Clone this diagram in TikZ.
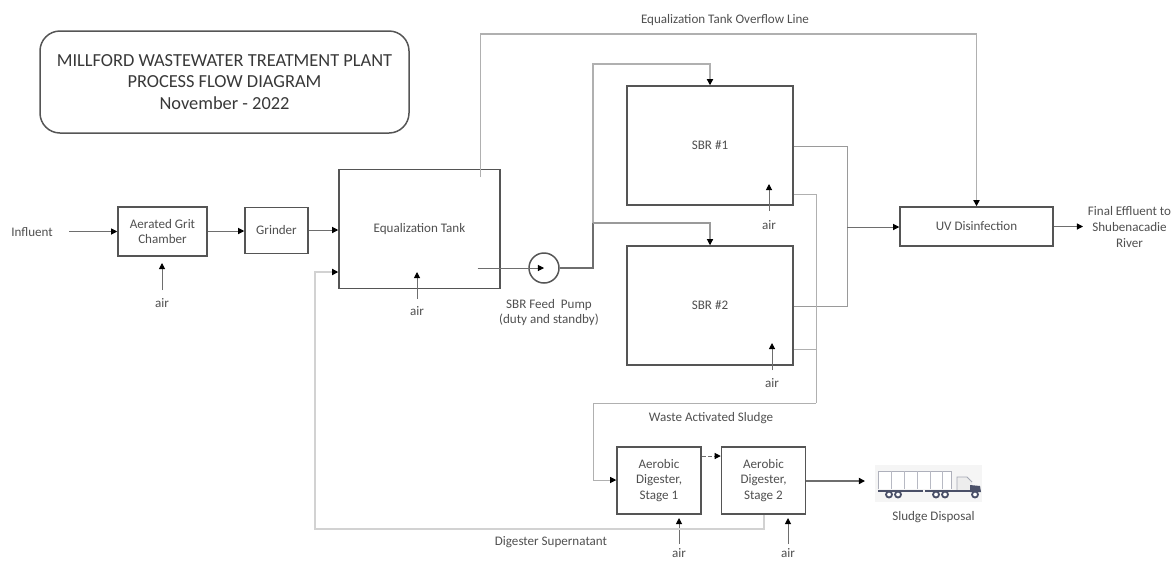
\documentclass[tikz,border=0pt]{standalone}
\usepackage{fontspec}
\setmainfont{Carlito}
\usetikzlibrary{arrows.meta,calc}
\definecolor{txt}{HTML}{505050}
\definecolor{boxc}{HTML}{555555}
\definecolor{lineA}{HTML}{9A9A9A}
\definecolor{lineB}{HTML}{B0B0B0}
\definecolor{lineC}{HTML}{D2D2D2}
\definecolor{lineD}{HTML}{6E6E6E}
\definecolor{truckc}{HTML}{4A5068}
\tikzset{
  px/.style={line width=#1*0.75pt},
  tip/.style={-{Triangle[length=4.6pt,width=4.6pt,color=black]}},
  stepbox/.style args={#1 and #2}{draw=boxc,px=1.5,fill=white,rectangle,inner sep=0pt,align=center,
     minimum width=#1*0.75pt,minimum height=#2*0.75pt,text=txt,font=\fontsize{9.8pt}{11.8pt}\selectfont},
  lab/.style={text=txt,inner sep=0pt,align=center,font=\fontsize{9.8pt}{11.8pt}\selectfont},
  flow/.style={draw=lineD,px=1,tip},
  airflow/.style={draw=lineD,px=1,tip},
  over/.style={draw=lineB,px=1.4},
  outl/.style={draw=lineA,px=1},
  waste/.style={draw=lineB,px=0.9},
  super/.style={draw=lineC,px=1.3},
}
\begin{document}
\begin{tikzpicture}[x=0.75pt,y=-0.75pt]
\useasboundingbox (0,0) rectangle (1173,561);
% overflow
\coordinate (ovA) at (480.5,177);
\coordinate (ovB) at (480.5,34);
\coordinate (ovC) at (976.5,34);
% boxes
\node[stepbox=89 and 49] (grit) at (162.5,231.5) {Aerated Grit\\Chamber};
\node[stepbox=63 and 46] (grinder) at (276.5,230.5) {Grinder};
\node[stepbox=161 and 119] (eq) at (419.5,229) {Equalization Tank};
\node[stepbox=166 and 119] (sbra) at (710,145.5) {SBR \#1};
\node[stepbox=166 and 119] (sbrb) at (710,305.5) {SBR \#2};
\node[stepbox=153 and 39] (uv) at (976.5,226.5) {UV Disinfection};
\node[stepbox=84 and 67] (ada) at (659,480.5) {Aerobic\\Digester,\\Stage 1};
\node[stepbox=84 and 67] (adb) at (763.5,480.5) {Aerobic\\Digester,\\Stage 2};
\node[draw=boxc,px=1.5,circle,inner sep=0pt,minimum size=22.5pt,fill=white] (pump) at (544,268) {};
\node[draw=boxc,px=1.5,rounded corners=15pt,rectangle,inner sep=0pt,align=center,
  minimum width=369*0.75pt,minimum height=102*0.75pt,text=txt!70!black,
  font=\fontsize{13.8pt}{15.9pt}\selectfont] (title) at (224.5,82)
  {MILLFORD WASTEWATER TREATMENT PLANT\\PROCESS FLOW DIAGRAM\\November - 2022};
% labels
\node[lab] (influent) at (32,232) {Influent};
\node[lab] (final) at (1129.5,227) {Final Effluent to\\Shubenacadie\\River};
\node[lab] (ovl) at (725,20) {Equalization Tank Overflow Line};
\node[lab] (wasl) at (711,418) {Waste Activated Sludge};
\node[lab] (supl) at (551,542) {Digester Supernatant};
\node[lab] (pumpl) at (549,312.5) {SBR Feed\ \ Pump\\(duty and standby)};
\node[lab] (disp) at (933.5,517) {Sludge Disposal};
\node[lab] (airg) at (162,303) {air};
\node[lab] (aire) at (417,311) {air};
\node[lab] (aira) at (769,225) {air};
\node[lab] (airb) at (772,383) {air};
\node[lab] (airc) at (679,553) {air};
\node[lab] (aird) at (788,553) {air};
% main flow
\draw[flow] (69,231.5) coordinate (infl) -- (grit.west |- infl);
\draw[flow] (grit.east |- 0,231) -- (grinder.west |- 0,231);
\draw[flow] (grinder.east |- 0,230) -- (eq.west |- 0,230);
% air
\draw[airflow] (162,290) -- (162,263);
\draw[airflow] (417,299) -- (417,272);
\draw[airflow] (769,211) -- (769,184);
\draw[airflow] (772,370) -- (772,343);
\draw[airflow] (679,544) -- (679,518);
\draw[airflow] (788,544) -- (788,518);
% overflow line
\draw[over,tip] (ovA) -- (ovB) -- (ovC) -- (uv.north);
% pump
\coordinate (eqout) at (477.5,268);
\draw[draw=lineD,px=1,tip] (eqout) -- (pump.center);
\coordinate (jn) at (593,268);
\coordinate (jb) at (593,223);
\coordinate (jt) at (593,64);
\draw[draw=lineD,px=1.2] (pump.east) -- (jn) -- (jb);
\draw[over,tip] (jb) -- (jt) -- (sbra.north |- jt) -- (sbra.north);
\draw[draw=lineA,px=1.1,tip] (jb) -- (sbrb.north |- jb) -- (sbrb.north);
% SBR outlets
\coordinate (oa) at (847,146);
\coordinate (ob) at (847,306);
\coordinate (om) at (847,227);
\draw[outl] (sbra.east |- oa) -- (oa) -- (ob) -- (sbrb.east |- ob);
\draw[flow] (om) -- (uv.west |- om);
% waste sludge
\coordinate (wa) at (816,194);
\coordinate (wb) at (816,349);
\coordinate (wc) at (816,403);
\coordinate (wd) at (593,403);
\coordinate (we) at (593,480);
\draw[waste] (sbra.east |- wa) -- (wa) -- (wc);
\draw[waste] (sbrb.east |- wb) -- (wb);
\draw[waste,tip] (wc) -- (wd) -- (we) -- (ada.west |- we);
% digester
\draw[draw=lineD,px=1,dash pattern=on 3pt off 1.5pt,tip] (ada.east |- 0,456) -- (adb.west |- 0,456);
\coordinate (tr) at (865,481);
\draw[draw=lineD,px=1.4,tip] (adb.east |- tr) -- (tr);
% supernatant
\coordinate (sa) at (764,529);
\coordinate (sb) at (315,529);
\coordinate (sc) at (315,272);
\draw[super,tip] (adb.south) ++(0.5,0) -- (sa) -- (sb) -- (sc) -- (eq.west |- sc);
% final
\draw[flow] (uv.east) -- (1083,226.5);
% truck
\fill[black!4] (875,465) rectangle (982,502);
\fill[white] (878,471) rectangle (951,489);
\draw[truckc!45,px=0.9] (878,489) -- (878,471) -- (951,471) -- (951,489);
\foreach \xx in {891,904,917,930,942}{\draw[truckc!40,px=1] (\xx,471) -- (\xx,489);}
\fill[black!7] (957,490) -- (957,477) -- (967,477) -- (972,482) -- (972,490) -- cycle;
\draw[truckc!50,px=0.8] (957,490) -- (957,477) -- (967,477) -- (972,482);
\fill[truckc] (970,485) -- (980,486) -- (981,492) -- (970,492) -- cycle;
\fill[truckc] (878,489.5) rectangle (923,491.5);
\fill[truckc] (925,490) rectangle (972,492);
\foreach \xx in {889,898,936,945,975}{\draw[truckc,px=1.8,fill=white] (\xx,494.5) circle[radius=3];}
\end{tikzpicture}
\end{document}
